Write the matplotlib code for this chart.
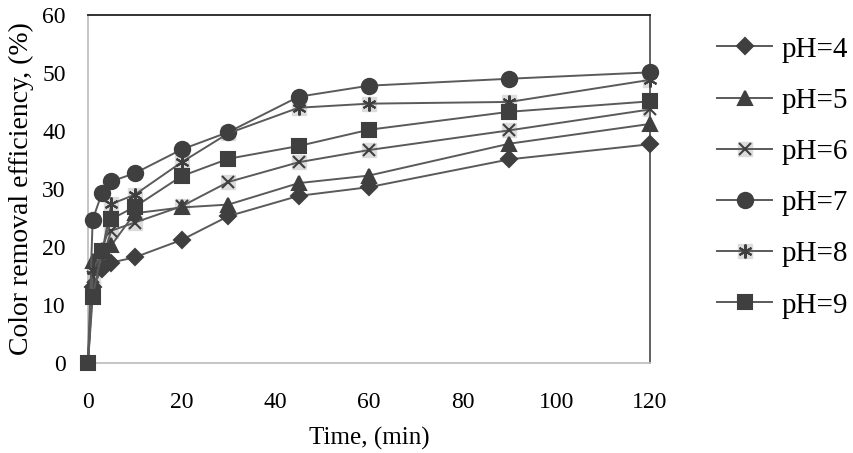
import matplotlib.pyplot as plt

plt.rcParams['font.family'] = ['Liberation Serif', 'DejaVu Serif']

time = [0, 1, 3, 5, 10, 20, 30, 45, 60, 90, 120]
ph4 = [0, 13.0, 16.2, 17.3, 18.2, 21.2, 25.3, 28.8, 30.3, 35.1, 37.7]
ph5 = [0, 17.5, 19.5, 20.3, 25.8, 26.8, 27.3, 31.0, 32.3, 37.8, 41.2]
ph6 = [0, 14.8, 18.0, 22.8, 24.2, 27.0, 31.2, 34.6, 36.7, 40.1, 43.7]
ph7 = [0, 24.7, 29.3, 31.3, 32.7, 36.8, 39.8, 45.9, 47.8, 49.0, 50.1]
ph8 = [0, 16.0, 19.0, 27.4, 29.0, 34.6, 39.6, 44.0, 44.7, 45.0, 48.8]
ph9 = [0, 11.4, 19.3, 24.8, 26.9, 32.2, 35.2, 37.4, 40.2, 43.3, 45.1]
labels = ['pH=4', 'pH=5', 'pH=6', 'pH=7', 'pH=8', 'pH=9']

line_c = '#5a5a5a'
mark_c = '#3f3f3f'

fig = plt.figure(figsize=(8.54, 4.53), dpi=100)
ax = fig.add_axes([0.103, 0.199, 0.658, 0.768])

# only the last series shows its marker at the origin (others hidden under it)
skip0 = list(range(1, len(time)))

# light gray box behind the x / star markers (Excel style)
bg6, = ax.plot(time, ph6, ls='none', marker='s', ms=10, color='#dcdcdc',
               zorder=2, markevery=skip0)
bg8, = ax.plot(time, ph8, ls='none', marker='s', ms=10, color='#dcdcdc',
               zorder=2, markevery=skip0)

series = [
    (ph4, 'D', 8, labels[0]),
    (ph5, '^', 10, labels[1]),
    (ph6, 'x', 9, labels[2]),
    (ph7, 'o', 11, labels[3]),
    (ph8, (6, 2, 0), 10, labels[4]),
    (ph9, 's', 10, labels[5]),
]
handles = []
for i, (vals, m, ms, lab) in enumerate(series):
    every = None if i == len(series) - 1 else skip0
    h, = ax.plot(time, vals, color=line_c, lw=1.4, marker=m, ms=ms,
                 mfc=mark_c, mec=mark_c, mew=1.5, label=lab, zorder=3,
                 clip_on=False, markevery=every)
    handles.append(h)

leg_handles = list(handles)
leg_handles[2] = (bg6, handles[2])
leg_handles[4] = (bg8, handles[4])

ax.set_xlim(0, 120)
ax.set_ylim(0, 60)
ax.set_xticks(range(0, 121, 20))
ax.set_yticks(range(0, 61, 10))
ax.tick_params(axis='x', length=0, labelsize=17, pad=21)
ax.tick_params(axis='y', length=0, labelsize=17, pad=16)
ax.set_xlabel('Time, (min)', fontsize=18, labelpad=10)
ax.set_ylabel('Color removal efficiency, (%)', fontsize=20, labelpad=6)

ax.spines['top'].set_color('#222222')
ax.spines['right'].set_color('#555555')
ax.spines['left'].set_color('#bfbfbf')
ax.spines['bottom'].set_color('#bfbfbf')
for s in ax.spines.values():
    s.set_linewidth(1.3)

fig.legend(leg_handles, labels, loc='upper left', bbox_to_anchor=(0.8396, 0.920),
           frameon=False, fontsize=21, handlelength=1.9, handletextpad=0.3,
           labelspacing=0.85, borderaxespad=0, borderpad=0)

fig.savefig('out.png', dpi=100)
